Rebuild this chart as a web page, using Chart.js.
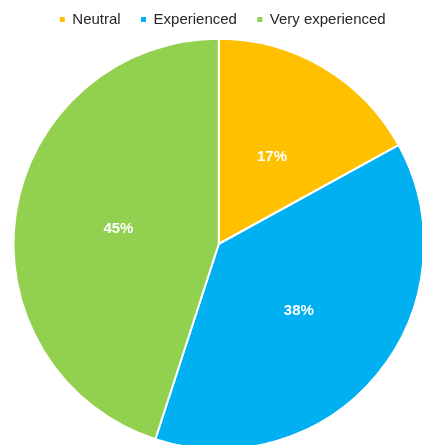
<!DOCTYPE html>
<html>
<head>
<meta charset="utf-8">
<style>
  html, body { margin: 0; padding: 0; background: #ffffff; overflow: hidden; }
  /* the pie runs slightly past the bottom and right edges of the window */
  #wrap { width: 425px; height: 451px; position: relative; }
</style>
<script src="https://cdn.jsdelivr.net/npm/chart.js@4/dist/chart.umd.min.js"></script>
</head>
<body>
<div id="wrap"><canvas id="chart"></canvas></div>
<script>
// Share of respondents by experience level
const categories = ['Neutral', 'Experienced', 'Very experienced'];
const shares = [17, 38, 45];
const sliceColors = ['#FFC000', '#00B0F0', '#92D050'];

// Writes each slice's percentage at the middle of its arc
const sliceLabels = {
  id: 'sliceLabels',
  afterDatasetsDraw(chart) {
    const ctx = chart.ctx;
    const meta = chart.getDatasetMeta(0);
    const values = chart.data.datasets[0].data;
    ctx.save();
    ctx.fillStyle = '#ffffff';
    ctx.font = 'bold 15px "Liberation Sans", Arial, sans-serif';
    ctx.textAlign = 'center';
    ctx.textBaseline = 'middle';
    meta.data.forEach((arc, i) => {
      const p = arc.tooltipPosition();
      ctx.fillText(values[i] + '%', p.x + 1, p.y + 1);
    });
    ctx.restore();
  }
};

// Nudges the legend row a little to the right
const legendNudge = {
  id: 'legendNudge',
  afterLayout(chart) {
    if (chart.legend) {
      chart.legend.left += 4;
      chart.legend.right += 4;
    }
  }
};

new Chart(document.getElementById('chart'), {
  type: 'pie',
  data: {
    labels: categories,
    datasets: [{
      data: shares,
      backgroundColor: sliceColors,
      borderColor: '#ffffff',
      borderWidth: 2
    }]
  },
  options: {
    responsive: true,
    maintainAspectRatio: false,
    animation: false,
    layout: { padding: { left: 12.5, right: 0, top: 0, bottom: 0 } },
    plugins: {
      legend: {
        position: 'top',
        labels: {
          boxWidth: 5,
          boxHeight: 5,
          padding: 12,
          color: '#262626',
          font: { family: '"Liberation Sans", Arial, sans-serif', size: 15 },
          generateLabels(chart) {
            const items = Chart.controllers.pie.overrides.plugins.legend.labels.generateLabels(chart);
            items.forEach((it, i) => {
              if (i < items.length - 1) it.text = it.text + '  ';
              it.lineWidth = 0;
            });
            return items;
          }
        }
      },
      tooltip: { enabled: false }
    }
  },
  plugins: [sliceLabels, legendNudge]
});
</script>
</body>
</html>
